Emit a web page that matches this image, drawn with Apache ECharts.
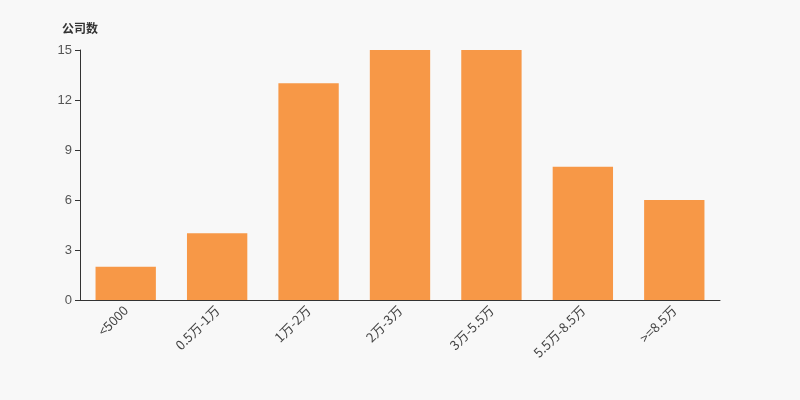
<!DOCTYPE html>
<html><head><meta charset="utf-8">
<script src="https://cdn.jsdelivr.net/npm/echarts@6/dist/echarts.min.js"></script>
<style>html,body{margin:0;padding:0;background:#f8f8f8;}#c{width:800px;height:400px;}</style>
</head><body><div id="c"></div>
<script>
const categories = ['<5000', '0.5万-1万', '1万-2万', '2万-3万', '3万-5.5万', '5.5万-8.5万', '>=8.5万'];
const values = [2, 4, 13, 15, 15, 8, 6];
const yTicks = [0, 3, 6, 9, 12, 15];

const chart = echarts.init(document.getElementById('c'));
chart.setOption({
  backgroundColor: '#f8f8f8',
  animation: false,
  grid: { left: 80, right: 80, top: 50, bottom: 100 },
  xAxis: {
    type: 'category',
    data: categories,
    axisLine: { lineStyle: { color: '#333' } },
    axisTick: { lineStyle: { color: '#333' } },
    axisLabel: { rotate: 45, color: '#444', fontSize: 13, interval: 0, margin: 8, fontFamily: 'Noto Sans CJK SC, sans-serif' }
  },
  yAxis: {
    type: 'value',
    min: yTicks[0], max: yTicks[yTicks.length - 1], interval: 3,
    name: '公司数',
    nameGap: 16,
    nameTextStyle: { color: '#333', fontWeight: 'bold', fontSize: 12, align: 'center', fontFamily: 'Noto Sans CJK SC, sans-serif' },
    axisLine: { show: true, lineStyle: { color: '#333' } },
    axisTick: { show: true, lineStyle: { color: '#333' } },
    axisLabel: { color: '#555', fontSize: 13, fontFamily: 'Arial, Liberation Sans, sans-serif' },
    splitLine: { show: false }
  },
  series: [{
    type: 'bar',
    data: values,
    barWidth: '66%',
    itemStyle: { color: '#f79847' }
  }]
});
</script></body></html>
